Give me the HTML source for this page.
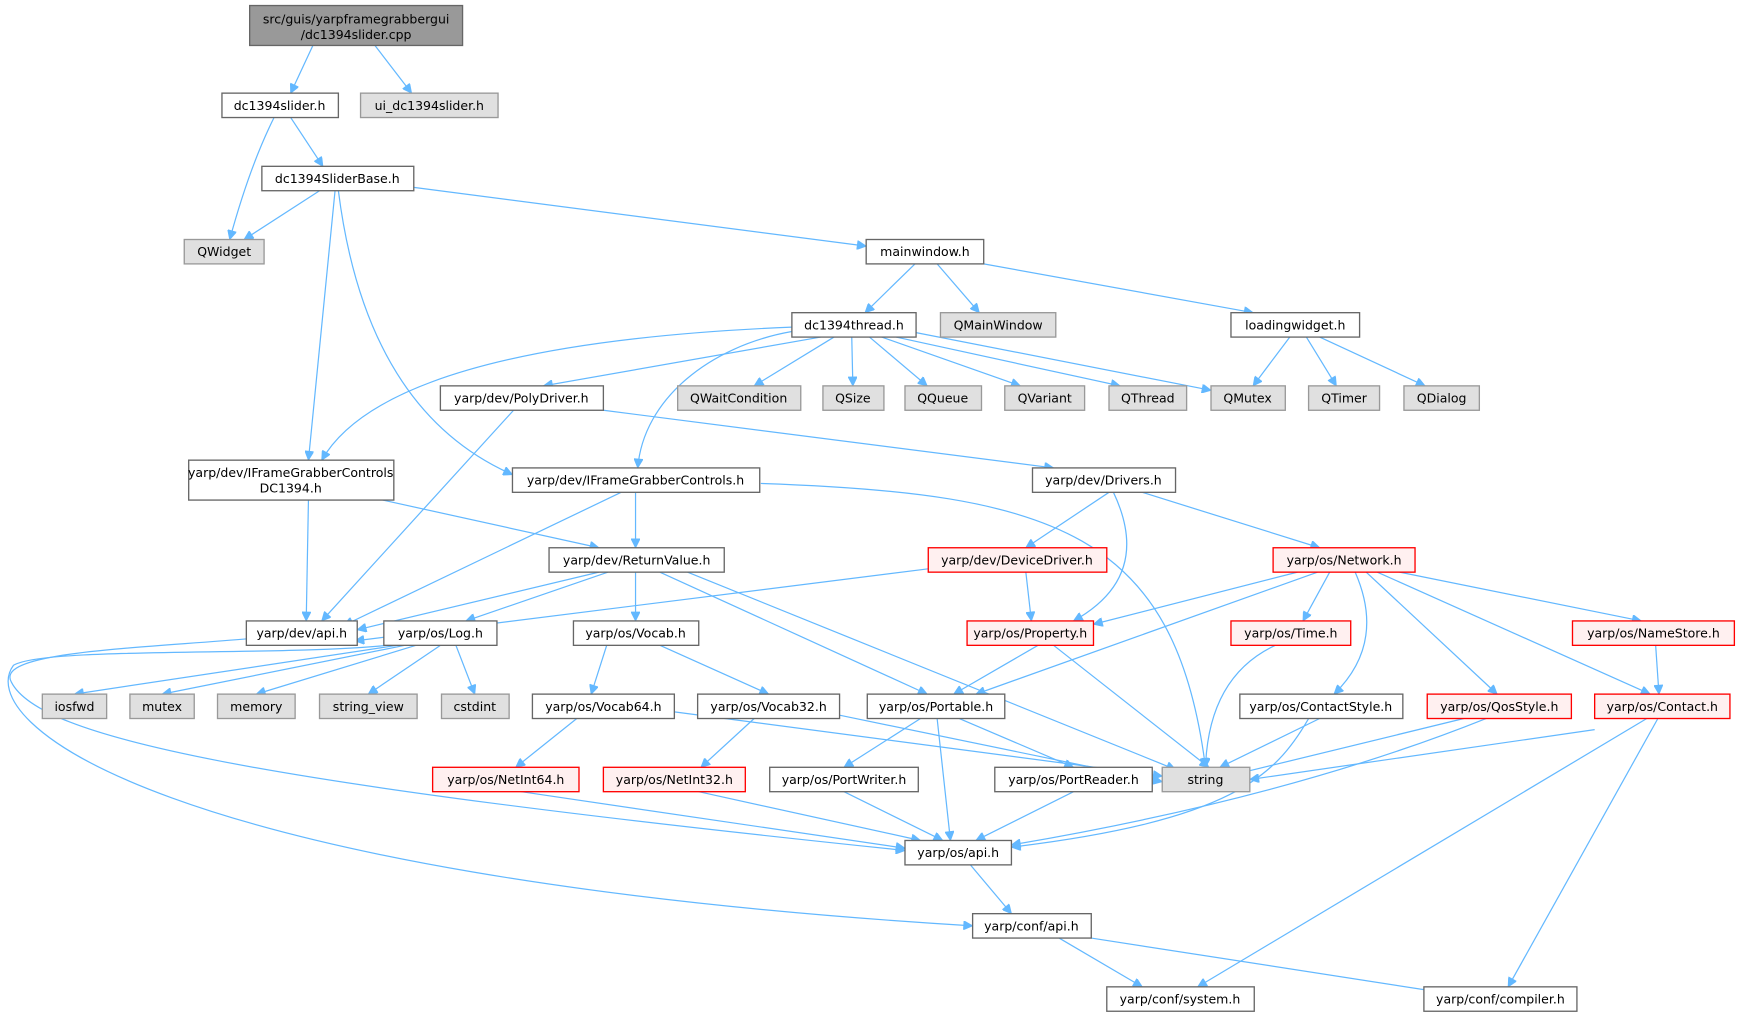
<!DOCTYPE html>
<html><head><meta charset="utf-8"><style>
html,body{margin:0;padding:0;background:#fff}
svg{display:block}
text{font-family:"DejaVu Sans","Liberation Sans",sans-serif;font-size:11.3px;fill:#000;text-anchor:middle;dominant-baseline:central}
.e{fill:none;stroke:#63b8ff;stroke-width:1.1}
.n{fill:#fff;stroke:#666;stroke-width:1.2}
.g{fill:#e0e0e0;stroke:#999;stroke-width:1.2}
.r{fill:#fff0f0;stroke:#ff0000;stroke-width:1.2}
.t{fill:#999;stroke:#666;stroke-width:1.2}
</style></head><body>
<svg width="1739" height="1019" viewBox="0 0 1568 919" xmlns="http://www.w3.org/2000/svg">
<defs><marker id="a" viewBox="0 0 10 10" refX="10" refY="5" markerWidth="10" markerHeight="8" markerUnits="userSpaceOnUse" orient="auto"><path d="M0,0L10,5L0,10z" fill="#63b8ff" stroke="#63b8ff"/></marker></defs>
<g marker-end="url(#a)">
<path class="e" d="M282,41L262,84"/>
<path class="e" d="M338,41L371,84"/>
<path class="e" d="M247,106Q225,150 207,216"/>
<path class="e" d="M262,106L291,150"/>
<path class="e" d="M288,172L220,216"/>
<path class="e" d="M373,169L781,222"/>
<path class="e" d="M302,172L278,415"/>
<path class="e" d="M305,172Q330,370 462,428"/>
<path class="e" d="M825,238L780,282"/>
<path class="e" d="M845,238L883,282"/>
<path class="e" d="M887,238L1130,282"/>
<path class="e" d="M1163,304L1130,348"/>
<path class="e" d="M1178,304L1205,348"/>
<path class="e" d="M1190,304L1285,348"/>
<path class="e" d="M714,295Q350,310 290,415"/>
<path class="e" d="M740,304L490,348"/>
<path class="e" d="M714,299C640,312 580,360 575,422"/>
<path class="e" d="M752,304L680,348"/>
<path class="e" d="M768,304L769,348"/>
<path class="e" d="M784,304L836,348"/>
<path class="e" d="M795,304L920,348"/>
<path class="e" d="M808,304L1010,348"/>
<path class="e" d="M826,300L1092,352"/>
<path class="e" d="M463,370L290,560"/>
<path class="e" d="M544,370L950,422"/>
<path class="e" d="M278,451L276,560"/>
<path class="e" d="M345,451L540,494"/>
<path class="e" d="M560,444L310,564"/>
<path class="e" d="M573,444L573,494"/>
<path class="e" d="M686,436C950,445 1060,480 1087,692"/>
<path class="e" d="M1000,444L925,494"/>
<path class="e" d="M1004,444Q1040,520 968,560"/>
<path class="e" d="M1030,444L1190,494"/>
<path class="e" d="M837,513L320,578"/>
<path class="e" d="M925,516L930,560"/>
<path class="e" d="M540,516L322,568"/>
<path class="e" d="M548,516L420,560"/>
<path class="e" d="M573,516L573,560"/>
<path class="e" d="M595,516L836,626"/>
<path class="e" d="M620,516L1060,694"/>
<path class="e" d="M1170,516L986,563"/>
<path class="e" d="M1188,516L880,626"/>
<path class="e" d="M1199,516L1175,560"/>
<path class="e" d="M1222,516Q1250,580 1203,626"/>
<path class="e" d="M1232,516L1350,626"/>
<path class="e" d="M1242,516L1488,626"/>
<path class="e" d="M1262,516L1480,560"/>
<path class="e" d="M1493,582L1496,626"/>
<path class="e" d="M936,582L860,626"/>
<path class="e" d="M950,582L1090,692"/>
<path class="e" d="M1150,582Q1090,610 1087,692"/>
<path class="e" d="M358,582L67,626"/>
<path class="e" d="M365,582L146,626"/>
<path class="e" d="M375,582L231,626"/>
<path class="e" d="M397,582L332,626"/>
<path class="e" d="M411,582L428,626"/>
<path class="e" d="M224,576C120,585 -5,588 10,615 C35,665 220,705 816,767"/>
<path class="e" d="M349,582C250,592 40,583 12,600 C-25,650 140,790 877,835"/>
<path class="e" d="M547,582L533,626"/>
<path class="e" d="M595,582L693,626"/>
<path class="e" d="M520,648L465,692"/>
<path class="e" d="M608,642L1048,700"/>
<path class="e" d="M680,648L632,692"/>
<path class="e" d="M757,645L1048,705"/>
<path class="e" d="M830,648L761,692"/>
<path class="e" d="M845,648L857,758"/>
<path class="e" d="M865,648L968,692"/>
<path class="e" d="M470,714L816,765"/>
<path class="e" d="M630,714L830,758"/>
<path class="e" d="M761,714L850,758"/>
<path class="e" d="M968,714L880,758"/>
<path class="e" d="M1190,648L1100,692"/>
<path class="e" d="M1180,648C1150,700 1110,740 912,764"/>
<path class="e" d="M1320,648L1115,698"/>
<path class="e" d="M1340,648Q1160,720 912,762"/>
<path class="e" d="M1438,658L1127,703"/>
<path class="e" d="M1485,648L1080,890"/>
<path class="e" d="M1495,648L1360,890"/>
<path class="e" d="M875,780L912,824"/>
<path class="e" d="M955,846L1030,890"/>
<path class="e" d="M984,846L1300,895"/>
</g>
<g>
<rect class="t" x="225" y="5" width="192" height="36"/><text x="321" y="17">src/guis/yarpframegrabbergui</text><text x="321" y="31">/dc1394slider.cpp</text>
<rect class="n" x="200" y="84" width="105" height="22"/><text x="252" y="95">dc1394slider.h</text>
<rect class="g" x="325" y="84" width="124" height="22"/><text x="387" y="95">ui_dc1394slider.h</text>
<rect class="n" x="236" y="150" width="137" height="22"/><text x="304" y="161">dc1394SliderBase.h</text>
<rect class="g" x="166" y="216" width="72" height="22"/><text x="202" y="227">QWidget</text>
<rect class="n" x="781" y="216" width="106" height="22"/><text x="834" y="227">mainwindow.h</text>
<rect class="n" x="714" y="282" width="112" height="22"/><text x="770" y="293">dc1394thread.h</text>
<rect class="g" x="848" y="282" width="104" height="22"/><text x="900" y="293">QMainWindow</text>
<rect class="n" x="1110" y="282" width="116" height="22"/><text x="1168" y="293">loadingwidget.h</text>
<rect class="n" x="397" y="348" width="147" height="22"/><text x="470" y="359">yarp/dev/PolyDriver.h</text>
<rect class="g" x="611" y="348" width="111" height="22"/><text x="666" y="359">QWaitCondition</text>
<rect class="g" x="742" y="348" width="55" height="22"/><text x="769" y="359">QSize</text>
<rect class="g" x="816" y="348" width="69" height="22"/><text x="850" y="359">QQueue</text>
<rect class="g" x="906" y="348" width="72" height="22"/><text x="942" y="359">QVariant</text>
<rect class="g" x="1000" y="348" width="70" height="22"/><text x="1035" y="359">QThread</text>
<rect class="g" x="1092" y="348" width="67" height="22"/><text x="1125" y="359">QMutex</text>
<rect class="g" x="1180" y="348" width="64" height="22"/><text x="1212" y="359">QTimer</text>
<rect class="g" x="1266" y="348" width="68" height="22"/><text x="1300" y="359">QDialog</text>
<rect class="n" x="170" y="415" width="185" height="36"/><text x="262" y="426">yarp/dev/IFrameGrabberControls</text><text x="262" y="440">DC1394.h</text>
<rect class="n" x="462" y="422" width="223" height="22"/><text x="573" y="433">yarp/dev/IFrameGrabberControls.h</text>
<rect class="n" x="931" y="422" width="129" height="22"/><text x="995" y="433">yarp/dev/Drivers.h</text>
<rect class="n" x="495" y="494" width="158" height="22"/><text x="574" y="505">yarp/dev/ReturnValue.h</text>
<rect class="r" x="837" y="494" width="161" height="22"/><text x="917" y="505">yarp/dev/DeviceDriver.h</text>
<rect class="r" x="1148" y="494" width="128" height="22"/><text x="1212" y="505">yarp/os/Network.h</text>
<rect class="n" x="222" y="560" width="100" height="22"/><text x="272" y="571">yarp/dev/api.h</text>
<rect class="n" x="346" y="560" width="102" height="22"/><text x="397" y="571">yarp/os/Log.h</text>
<rect class="n" x="517" y="560" width="113" height="22"/><text x="573" y="571">yarp/os/Vocab.h</text>
<rect class="r" x="872" y="560" width="114" height="22"/><text x="929" y="571">yarp/os/Property.h</text>
<rect class="r" x="1110" y="560" width="108" height="22"/><text x="1164" y="571">yarp/os/Time.h</text>
<rect class="r" x="1418" y="560" width="146" height="22"/><text x="1491" y="571">yarp/os/NameStore.h</text>
<rect class="g" x="38" y="626" width="58" height="22"/><text x="67" y="637">iosfwd</text>
<rect class="g" x="117" y="626" width="58" height="22"/><text x="146" y="637">mutex</text>
<rect class="g" x="196" y="626" width="70" height="22"/><text x="231" y="637">memory</text>
<rect class="g" x="288" y="626" width="88" height="22"/><text x="332" y="637">string_view</text>
<rect class="g" x="398" y="626" width="61" height="22"/><text x="428" y="637">cstdint</text>
<rect class="n" x="480" y="626" width="128" height="22"/><text x="544" y="637">yarp/os/Vocab64.h</text>
<rect class="n" x="629" y="626" width="128" height="22"/><text x="693" y="637">yarp/os/Vocab32.h</text>
<rect class="n" x="782" y="626" width="124" height="22"/><text x="844" y="637">yarp/os/Portable.h</text>
<rect class="n" x="1118" y="626" width="147" height="22"/><text x="1191" y="637">yarp/os/ContactStyle.h</text>
<rect class="r" x="1287" y="626" width="130" height="22"/><text x="1352" y="637">yarp/os/QosStyle.h</text>
<rect class="r" x="1438" y="626" width="122" height="22"/><text x="1499" y="637">yarp/os/Contact.h</text>
<rect class="r" x="390" y="692" width="132" height="22"/><text x="456" y="703">yarp/os/NetInt64.h</text>
<rect class="r" x="544" y="692" width="128" height="22"/><text x="608" y="703">yarp/os/NetInt32.h</text>
<rect class="n" x="694" y="692" width="134" height="22"/><text x="761" y="703">yarp/os/PortWriter.h</text>
<rect class="n" x="897" y="692" width="142" height="22"/><text x="968" y="703">yarp/os/PortReader.h</text>
<rect class="g" x="1048" y="692" width="79" height="22"/><text x="1087" y="703">string</text>
<rect class="n" x="816" y="758" width="96" height="22"/><text x="864" y="769">yarp/os/api.h</text>
<rect class="n" x="877" y="824" width="107" height="22"/><text x="930" y="835">yarp/conf/api.h</text>
<rect class="n" x="998" y="890" width="133" height="22"/><text x="1064" y="901">yarp/conf/system.h</text>
<rect class="n" x="1284" y="890" width="138" height="22"/><text x="1353" y="901">yarp/conf/compiler.h</text>
</g>
</svg>
</body></html>
